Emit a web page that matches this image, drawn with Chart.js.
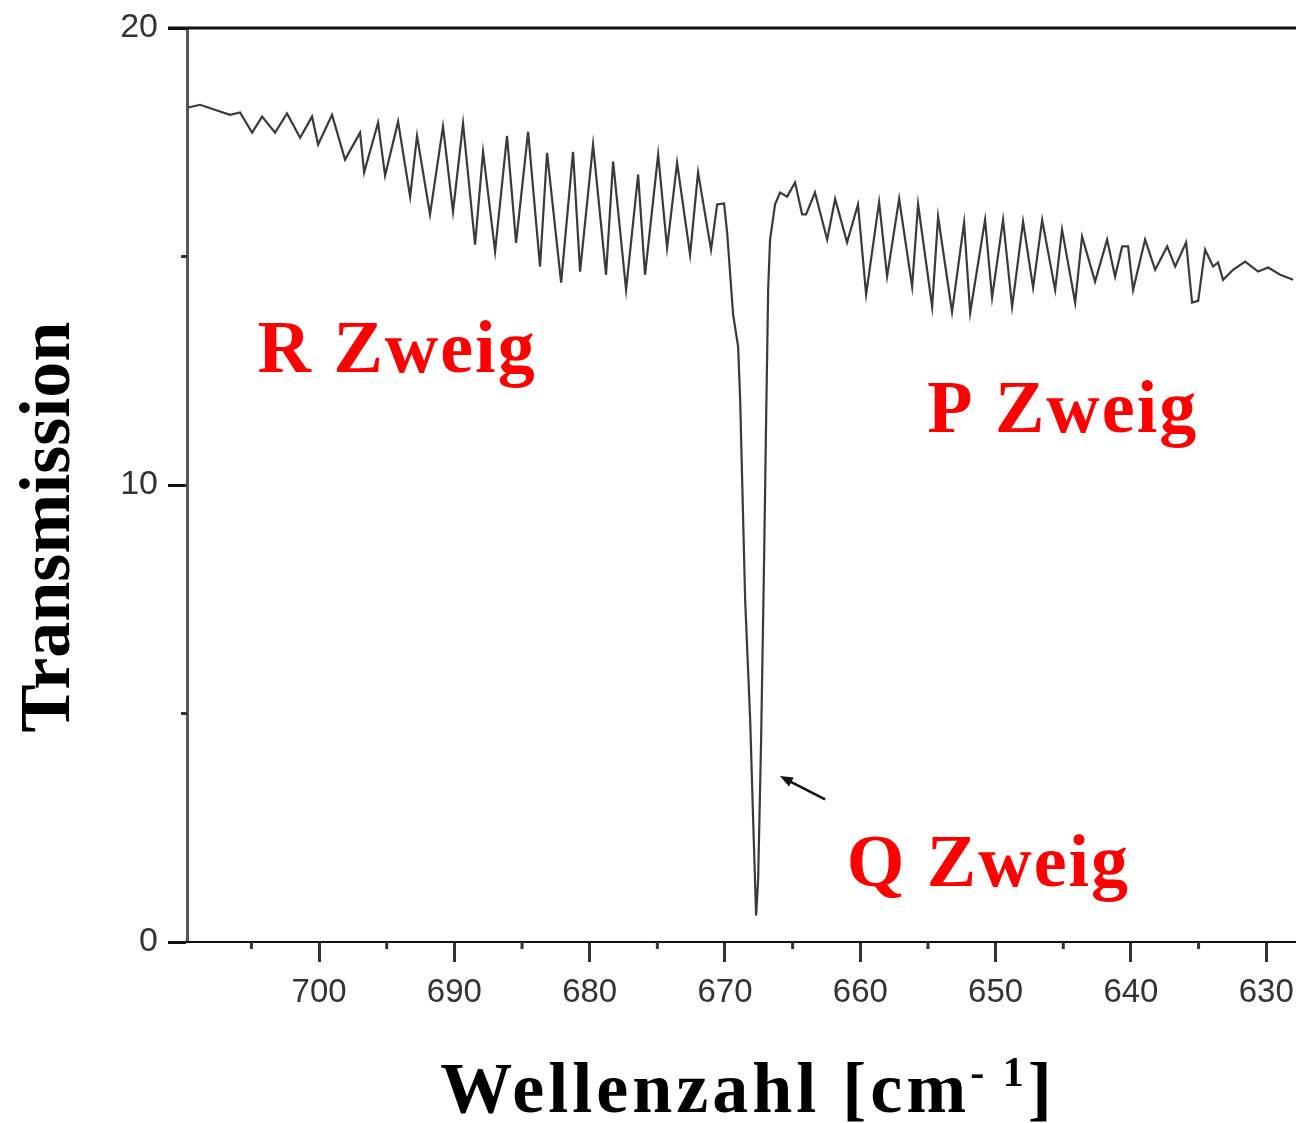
<!DOCTYPE html>
<html>
<head>
<meta charset="utf-8">
<script src="https://cdn.jsdelivr.net/npm/chart.js@4/dist/chart.umd.min.js"></script>
<style>
  html, body { margin: 0; padding: 0; background: #fff; }
  canvas { display: block; }
</style>
</head>
<body>
<canvas id="spectrum" width="1296" height="1123"></canvas>
<script>
// CO2 bending band (nu2) — wavenumber in cm^-1, transmission in arbitrary units
const wavenumber = [
  709.68, 708.80, 706.58, 705.84, 704.95, 704.21, 703.25, 702.37, 701.40, 700.52,
  700.07, 699.04, 698.08, 696.97, 696.67, 695.64, 695.12, 694.16, 693.27, 692.76,
  691.80, 690.84, 690.10, 689.36, 688.47, 687.88, 686.99, 686.11, 685.44, 684.55,
  683.67, 683.15, 682.11, 681.23, 680.71, 679.75, 678.79, 678.27, 677.31, 676.42,
  675.91, 674.94, 674.28, 673.54, 672.58, 671.99, 671.03, 670.58, 670.07, 669.84,
  669.40, 669.03, 668.88, 668.51, 668.14, 667.92, 667.70, 667.55, 667.33, 667.11,
  666.96, 666.81, 666.67, 666.30, 665.93, 665.41, 664.82, 664.30, 664.01, 663.35,
  662.45, 661.86, 660.98, 660.17, 659.57, 658.61, 658.02, 657.13, 656.17, 655.73,
  654.69, 654.25, 653.22, 652.33, 651.88, 650.78, 650.26, 649.45, 648.78, 647.97,
  647.23, 646.56, 645.60, 645.09, 644.12, 643.61, 642.65, 641.76, 641.17, 640.65,
  640.21, 639.84, 638.95, 638.21, 637.32, 636.73, 635.92, 635.48, 635.03, 634.52,
  633.93, 633.56, 633.19, 632.45, 631.56, 630.60, 629.86, 628.97, 628.01
];
const transmission = [
  18.26, 18.32, 18.10, 18.15, 17.71, 18.06, 17.71, 18.13, 17.60, 18.06,
  17.45, 18.10, 17.12, 17.71, 16.84, 17.93, 16.77, 17.95, 16.31, 17.64,
  15.92, 17.84, 15.98, 17.91, 15.26, 17.29, 15.11, 17.64, 15.30, 17.73,
  14.78, 17.27, 14.43, 17.29, 14.67, 17.45, 14.60, 17.08, 14.27, 16.79,
  14.60, 17.23, 15.19, 17.05, 15.04, 16.84, 15.15, 16.14, 16.16, 15.52,
  13.73, 13.03, 11.87, 7.49, 4.87, 2.68, 0.58, 1.37, 4.43, 8.37,
  11.43, 14.27, 15.37, 16.14, 16.40, 16.31, 16.62, 15.92, 15.92, 16.40,
  15.37, 16.26, 15.31, 16.14, 14.17, 16.19, 14.56, 16.26, 14.34, 16.14,
  13.90, 15.87, 13.79, 15.74, 13.77, 15.80, 14.10, 15.80, 13.90, 15.76,
  14.32, 15.80, 14.27, 15.59, 13.99, 15.44, 14.45, 15.37, 14.56, 15.22,
  15.22, 14.27, 15.37, 14.71, 15.22, 14.78, 15.31, 13.99, 14.03, 15.15,
  14.78, 14.87, 14.49, 14.71, 14.89, 14.67, 14.76, 14.60, 14.49
];

// Axis ticks
const xMajorTicks = [700, 690, 680, 670, 660, 650, 640, 630];
const xMinorTicks = [705, 695, 685, 675, 665, 655, 645, 635];
const yMajorTicks = [0, 10, 20];
const yMinorTicks = [5, 15];

// Branch labels: [text, wavenumber at left edge, transmission at baseline]
const branchNames = ['R Zweig', 'P Zweig', 'Q Zweig'];
const branchX = [704.55, 655.05, 661.0];
const branchY = [12.47, 11.15, 1.22];

// Arrow pointing at the Q branch: tail and tip in data units
const arrowFrom = { x: 662.6, y: 3.12 };
const arrowTo = { x: 665.95, y: 3.63 };

const SERIF = '"Liberation Serif", "Times New Roman", Times, serif';
const SANS = '"Liberation Sans", Arial, Helvetica, sans-serif';

const decorations = {
  id: 'decorations',
  afterDraw(chart) {
    const { ctx, chartArea: a, scales: { x, y } } = chart;
    ctx.save();

    // top frame line, extending left like the 20 tick
    ctx.strokeStyle = '#111';
    ctx.lineWidth = 3;
    ctx.beginPath();
    ctx.moveTo(168, y.getPixelForValue(20));
    ctx.lineTo(chart.width, y.getPixelForValue(20));
    ctx.stroke();

    // bottom axis line continues to the left of the y axis
    ctx.lineWidth = 2;
    ctx.beginPath();
    ctx.moveTo(168, a.bottom);
    ctx.lineTo(chart.width, a.bottom);
    ctx.stroke();

    // minor ticks
    ctx.strokeStyle = '#333';
    ctx.lineWidth = 3;
    xMinorTicks.forEach(v => {
      const px = x.getPixelForValue(v);
      ctx.beginPath();
      ctx.moveTo(px, a.bottom);
      ctx.lineTo(px, a.bottom + 7);
      ctx.stroke();
    });
    yMinorTicks.forEach(v => {
      const py = y.getPixelForValue(v);
      ctx.beginPath();
      ctx.moveTo(a.left, py);
      ctx.lineTo(a.left - 6, py);
      ctx.stroke();
    });

    // branch labels
    ctx.fillStyle = '#ff0000';
    ctx.font = 'bold 74px ' + SERIF;
    ctx.textAlign = 'left';
    ctx.textBaseline = 'alphabetic';
    ctx.letterSpacing = '2px';
    branchNames.forEach((t, i) => {
      ctx.fillText(t, x.getPixelForValue(branchX[i]), y.getPixelForValue(branchY[i]));
    });

    // arrow
    const x0 = x.getPixelForValue(arrowFrom.x), y0 = y.getPixelForValue(arrowFrom.y);
    const x1 = x.getPixelForValue(arrowTo.x), y1 = y.getPixelForValue(arrowTo.y);
    const ang = Math.atan2(y1 - y0, x1 - x0);
    ctx.strokeStyle = '#111';
    ctx.fillStyle = '#111';
    ctx.lineWidth = 2.5;
    ctx.beginPath();
    ctx.moveTo(x0, y0);
    ctx.lineTo(x1 - 8 * Math.cos(ang), y1 - 8 * Math.sin(ang));
    ctx.stroke();
    ctx.beginPath();
    ctx.moveTo(x1, y1);
    ctx.lineTo(x1 - 13 * Math.cos(ang) + 5 * Math.sin(ang), y1 - 13 * Math.sin(ang) - 5 * Math.cos(ang));
    ctx.lineTo(x1 - 13 * Math.cos(ang) - 5 * Math.sin(ang), y1 - 13 * Math.sin(ang) + 5 * Math.cos(ang));
    ctx.closePath();
    ctx.fill();

    // y axis title
    ctx.fillStyle = '#000';
    ctx.letterSpacing = '0px';
    ctx.font = 'bold 72px ' + SERIF;
    ctx.save();
    ctx.translate(69, 527);
    ctx.rotate(-Math.PI / 2);
    ctx.textAlign = 'center';
    ctx.fillText('Transmission', 0, 0);
    ctx.restore();

    // x axis title with superscript
    const main = 'Wellenzahl [cm';
    const sup = '- 1';
    const close = ']';
    ctx.letterSpacing = '4px';
    ctx.font = 'bold 72px ' + SERIF;
    const wMain = ctx.measureText(main).width;
    const wClose = ctx.measureText(close).width;
    ctx.font = 'bold 42px ' + SERIF;
    const wSup = ctx.measureText(sup).width;
    const total = wMain + wSup + wClose;
    let sx = 748 - total / 2;
    const base = 1112;
    ctx.textAlign = 'left';
    ctx.font = 'bold 72px ' + SERIF;
    ctx.fillText(main, sx, base);
    sx += wMain;
    ctx.font = 'bold 42px ' + SERIF;
    ctx.fillText(sup, sx, base - 26);
    sx += wSup;
    ctx.font = 'bold 72px ' + SERIF;
    ctx.fillText(close, sx, base);

    ctx.restore();
  }
};

new Chart(document.getElementById('spectrum'), {
  type: 'line',
  data: {
    datasets: [{
      data: wavenumber.map((w, i) => ({ x: w, y: transmission[i] })),
      borderColor: '#3a3a3a',
      borderWidth: 2.2,
      pointRadius: 0,
      tension: 0,
      fill: false
    }]
  },
  options: {
    responsive: false,
    animation: false,
    events: [],
    layout: { padding: { left: 0, right: 0, top: 28, bottom: 0 } },
    plugins: { legend: { display: false }, tooltip: { enabled: false }, title: { display: false } },
    scales: {
      x: {
        type: 'linear',
        reverse: true,
        min: 627.8,
        max: 709.76,
        afterBuildTicks: s => { s.ticks = xMajorTicks.map(v => ({ value: v })); },
        afterFit: s => { s.height = 181; s.paddingLeft = 0; s.paddingRight = 0; },
        border: { display: true, color: '#111', width: 2 },
        grid: { display: true, drawOnChartArea: false, drawTicks: true, tickLength: 20, tickWidth: 3, tickColor: '#333' },
        ticks: { autoSkip: false, maxRotation: 0, padding: 11, color: '#333', font: { family: SANS, size: 33 } }
      },
      y: {
        type: 'linear',
        min: 0,
        max: 20,
        afterBuildTicks: s => { s.ticks = yMajorTicks.map(v => ({ value: v })); },
        afterFit: s => { s.width = 187; s.paddingTop = 0; s.paddingBottom = 0; },
        border: { display: true, color: '#555', width: 3 },
        grid: { display: true, drawOnChartArea: false, drawTicks: true, tickLength: 19, tickWidth: 3, tickColor: '#111' },
        ticks: { padding: 10, color: '#333', font: { family: SANS, size: 34 } }
      }
    }
  },
  plugins: [decorations]
});
</script>
</body>
</html>
